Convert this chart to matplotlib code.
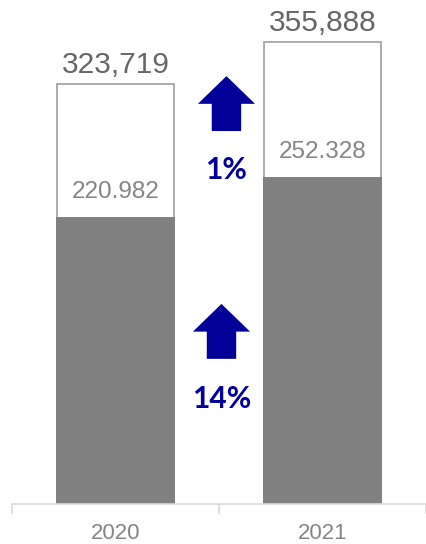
import matplotlib
matplotlib.use("Agg")
import matplotlib.pyplot as plt
from matplotlib.patches import FancyArrow

# --- data ---------------------------------------------------------------
years = ["2020", "2021"]
base_values = [220.982, 252.328]          # filled grey bars
total_values = [323.719, 355.888]         # outlined boxes
base_labels = ["220.982", "252.328"]
total_labels = ["323,719", "355,888"]
growth_labels = ["14%", "1%"]             # base growth, total growth

GREY = "#808080"
EDGE = "#a6a6a6"
TEXT_DARK = "#666666"
TEXT_LIGHT = "#858585"
NAVY = "#000099"

W, H = 426, 544
fig = plt.figure(figsize=(W / 100, H / 100), dpi=100)
ax = fig.add_axes([12 / W, 40 / H, 414 / W, 504 / H])

x = list(range(len(years)))
bar_w = 0.575

# outlined total boxes behind, solid base bars in front
ax.bar(x, total_values, width=bar_w * 0.98, color="white",
       edgecolor=EDGE, linewidth=1.3, zorder=1)
ax.bar(x, base_values, width=bar_w, color=GREY, linewidth=0, zorder=2)

for xi, v, lab in zip(x, total_values, total_labels):
    ax.annotate(lab, (xi, v), xytext=(0, 19), textcoords="offset pixels",
                ha="center", va="center", fontsize=21.5,
                family="Liberation Sans", color=TEXT_DARK)

for xi, v, lab in zip(x, base_values, base_labels):
    ax.annotate(lab, (xi, v), xytext=(0, 25), textcoords="offset pixels",
                ha="center", va="center", fontsize=17.5,
                family="Liberation Sans", color=TEXT_LIGHT, zorder=3)

# growth arrows between the bars (axes fraction coords)
arrows = [
    # (x centre, tail y, length, label y)
    (0.506, 0.288, 0.109, 0.208),
    (0.518, 0.740, 0.109, 0.662),
]
for (ax_x, y0, length, ly), lab in zip(arrows, growth_labels):
    ax.add_patch(FancyArrow(ax_x, y0, 0, length, width=0.071,
                            head_width=0.138, head_length=0.055,
                            length_includes_head=True, color=NAVY,
                            linewidth=0, transform=ax.transAxes))
    ax.text(ax_x, ly, lab, transform=ax.transAxes, ha="center", va="center",
            fontsize=21.5, fontweight="bold", family="Lato", color=NAVY)

ax.set_xlim(-0.5, 1.5)
ax.set_ylim(0, 388.5)

for side in ("top", "right", "left"):
    ax.spines[side].set_visible(False)
ax.spines["bottom"].set_color("#d9d9d9")
ax.spines["bottom"].set_linewidth(1.2)
ax.set_yticks([])

ax.set_xticks(x)
ax.set_xticklabels(years, fontsize=16, family="Liberation Sans",
                   color=TEXT_LIGHT)
ax.tick_params(axis="x", which="major", length=0, pad=14)
ax.set_xticks([-0.5, 0.5, 1.5], minor=True)
ax.tick_params(axis="x", which="minor", length=7, width=1.2,
               color="#d9d9d9", direction="out")

fig.savefig("out.png", dpi=100)
